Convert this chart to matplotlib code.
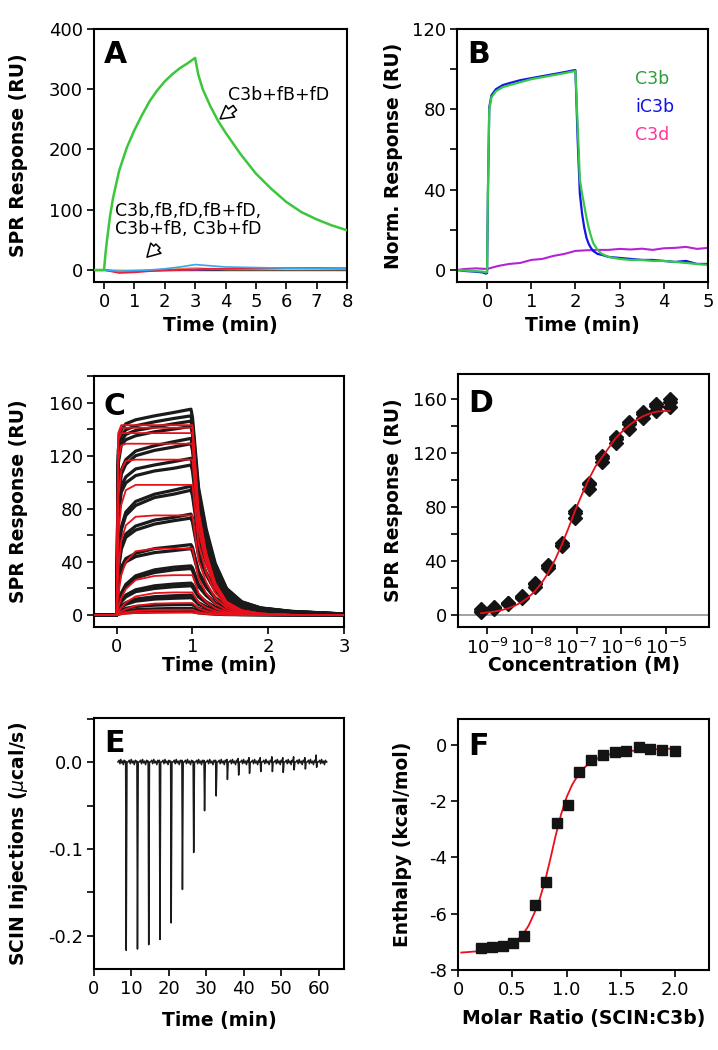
"""Six-panel SPR / ITC figure (panels A-F) redrawn with matplotlib."""

import matplotlib

matplotlib.use("Agg")
import matplotlib.pyplot as plt  # noqa: E402
from matplotlib.ticker import FixedLocator, MultipleLocator, NullLocator  # noqa: E402

plt.rcParams["font.family"] = ["DejaVu Sans"]
plt.rcParams["axes.unicode_minus"] = False

TICK_FONT_SIZE = 13
LABEL_FONT_SIZE = 13.5
LETTER_FONT_SIZE = 21.5
NOTE_FONT_SIZE = 12.5

# ---------------- panel A: SPR sensorgrams ----------------
A_TIME = [-0.33, 0, 0.05, 0.1, 0.2, 0.3, 0.5, 0.75, 1.0, 1.25, 1.5, 1.75, 2.0, 2.25,
          2.5, 2.75, 3.0, 3.1, 3.25, 3.5, 3.75, 4.0, 4.5, 5.0, 5.5, 6.0, 6.5, 7.0, 7.5, 8.0]
A_GREEN = [0, 0, 28, 50, 90, 120, 165, 203, 232, 257, 280, 298, 313, 325,
           335, 343, 352, 325, 300, 272, 248, 228, 192, 160, 135, 113, 96, 84, 74, 66]
A_LOW_TIME = [-0.33, 0, 0.5, 1, 1.5, 2, 2.5, 3, 3.5, 4, 5, 6, 7, 8]
A_CYAN = [0, 0, -2, -1, 0, 2, 5, 9, 7, 5, 4, 3, 2.5, 2]
A_YELLOW = [0, 0, -1, -2, -1, 0, 2, 4, 2, 1, 1, 1, 1, 1]
A_RED = [0, 0, -5, -4, -2, -1, 0, 1, 2, 2, 3, 3, 3, 3]
A_MAGENTA = [0, 0, -3, -3, -1, 0, 1, 1, 2, 2, 2, 3, 3, 2]
A_PURPLE = [0, 0, -2, -2, -1, 0, 0, 0, 1, 1, 1, 1, 1, 1]

# ---------------- panel B: normalised responses ----------------
B_TIME = [-0.68, -0.5, -0.3, -0.1, -0.02, 0.0, 0.02, 0.05, 0.1, 0.2, 0.35, 0.5, 0.75,
          1.0, 1.25, 1.5, 1.75, 1.98, 2.0, 2.05, 2.1, 2.15, 2.2, 2.25, 2.3, 2.35, 2.4,
          2.5, 2.6, 2.75, 3.0, 3.25, 3.5, 3.75, 4.0, 4.25, 4.5, 4.75, 5.0]
B_C3B = [0, -0.3, -0.6, -0.8, -1.2, -1.0, 40, 80, 86, 89, 91, 92, 93.5,
         95, 96, 97, 98, 99, 99, 72, 45, 38, 32, 26, 21, 17, 13.5,
         10, 8, 6.5, 5.5, 5, 5, 4.5, 4.5, 4, 3.5, 3, 2.5]
B_IC3B = [0, -0.5, -0.8, -1.2, -1.8, -1.5, 38, 81, 87, 90, 92, 93, 94.5,
          95.5, 96.5, 97.5, 98.5, 99.5, 99.5, 65, 38, 28, 21, 16, 13, 11, 9.5,
          8, 7.5, 6.5, 6, 5.5, 5, 5, 4.5, 4, 4.5, 3, 3]
B_TIME_C3D = [-0.68, -0.5, -0.25, 0.0, 0.25, 0.5, 0.75, 1.0, 1.25, 1.5, 1.75, 2.0,
              2.25, 2.5, 2.75, 3.0, 3.25, 3.5, 3.75, 4.0, 4.25, 4.5, 4.75, 5.0]
B_C3D = [0, 0.5, 0.8, 0.5, 2, 3, 3.5, 5, 5.5, 7, 8, 9.5,
         9.8, 10, 10, 10.5, 10.2, 10.6, 10, 10.8, 11, 11.5, 10.5, 11]
B_NAMES = ["C3b", "iC3b", "C3d"]

# ---------------- panel C: kinetic series with fits ----------------
C_TIME = [-0.3, 0.0, 0.02, 0.06, 0.12, 0.25, 0.5, 0.75, 0.98,
          1.0, 1.08, 1.18, 1.3, 1.45, 1.65, 1.9, 2.3, 3.0]
C_DATA = [
    [0, 0, 124, 139.5, 144, 147, 150, 152.5, 155, 149, 96, 65, 39, 20, 10, 5.4, 2.8, 0.8],
    [0, 0, 120, 135, 139.5, 142.5, 145.5, 148, 150, 144, 93, 63, 37.5, 19.5, 9.8, 5.2, 2.7, 0.8],
    [0, 0, 117, 131, 136, 139, 141.5, 144, 146, 140, 90.5, 61, 36.5, 19, 9.5, 5.1, 2.6, 0.7],
    [0, 0, 114, 128, 132, 135, 138, 140, 142, 136, 88, 60, 35.5, 18.5, 9.2, 5, 2.6, 0.7],
    [0, 0, 86.5, 109, 117, 123.5, 127.5, 130.5, 133, 128, 82.5, 56, 33, 17.3, 8.6, 4.7, 2.4, 0.7],
    [0, 0, 84, 106, 113.5, 120, 124, 126.5, 129, 124, 80, 54, 32, 16.8, 8.4, 4.5, 2.3, 0.6],
    [0, 0, 76.5, 97, 104, 110, 113, 115.5, 118, 113, 73, 49.5, 29.5, 15.3, 7.7, 4.1, 2.1, 0.6],
    [0, 0, 73.5, 92.5, 99.5, 105, 108.5, 110.5, 113, 108.5, 70, 47.5, 28, 14.7, 7.3, 4, 2, 0.6],
    [0, 0, 43.5, 66, 77.5, 85.5, 91, 94, 97, 93, 60, 40.7, 24, 12.6, 6.3, 3.4, 1.7, 0.5],
    [0, 0, 42.5, 64, 75, 82.5, 88.5, 91, 94, 90, 58, 39.5, 23.5, 12.2, 6.1, 3.3, 1.7, 0.5],
    [0, 0, 34, 51.5, 61, 67, 71.5, 73.5, 76, 73, 47, 32, 19, 9.9, 4.9, 2.7, 1.4, 0.4],
    [0, 0, 33, 49.5, 58.5, 64, 68.5, 71, 73, 70, 45, 30.5, 18, 9.5, 4.7, 2.6, 1.3, 0.4],
    [0, 0, 24, 36, 42.5, 46.5, 50, 51.5, 53, 51, 33, 22, 13, 6.9, 3.4, 1.9, 1.0, 0.3],
    [0, 0, 22.5, 34, 40, 44, 47, 48.5, 50, 48, 31, 21, 12.5, 6.5, 3.3, 1.8, 0.9, 0.3],
    [0, 0, 7.4, 16.5, 23, 29.5, 34, 36, 37, 35.5, 23, 15.5, 9.3, 4.8, 2.4, 1.3, 0.7, 0.2],
    [0, 0, 7, 15.5, 21.5, 28, 32, 34, 35, 33.5, 21.5, 14.7, 8.8, 4.6, 2.3, 1.2, 0.6, 0.2],
    [0, 0, 4.8, 10.8, 15, 19, 22, 23.3, 24, 23, 15, 10, 6, 3.1, 1.6, 0.8, 0.4, 0.1],
    [0, 0, 4.4, 10, 13.6, 17.6, 20, 21.3, 22, 21, 13.6, 9.2, 5.5, 2.9, 1.4, 0.8, 0.4, 0.1],
    [0, 0, 3, 6.8, 9.3, 12, 13.8, 14.5, 15, 14.4, 9.3, 6.3, 3.8, 2, 1, 0.5, 0.3, 0.1],
    [0, 0, 2.6, 5.9, 8, 10.4, 12, 12.6, 13, 12.5, 8, 5.5, 3.3, 1.7, 0.8, 0.5, 0.2, 0.1],
    [0, 0, 1.6, 3.6, 5, 6.4, 7.4, 7.8, 8, 7.7, 5, 3.4, 2, 1, 0.5, 0.3, 0.1, 0],
    [0, 0, 1, 2.3, 3.1, 4, 4.6, 4.9, 5, 4.8, 3.1, 2.1, 1.3, 0.7, 0.3, 0.2, 0.1, 0],
    [0, 0, 0.5, 1.1, 1.6, 2, 2.3, 2.4, 2.5, 2.4, 1.6, 1.1, 0.6, 0.3, 0.2, 0.1, 0, 0],
]
C_FITS = [
    [0, 0, 137, 143, 143, 143, 143, 143, 143, 143, 78.5, 47, 24, 10, 3.6, 1.1, 0.1, 0],
    [0, 0, 135, 141, 141, 141, 141, 141, 141, 141, 77.5, 46.5, 24, 9.9, 3.5, 1.1, 0.1, 0],
    [0, 0, 131.5, 137, 137, 137, 137, 137, 137, 137, 75, 45, 23.3, 9.6, 3.4, 1.1, 0.1, 0],
    [0, 0, 116, 127.7, 129, 129, 129, 129, 129, 129, 71, 42.5, 22, 9, 3.2, 1, 0.1, 0],
    [0, 0, 88, 109, 116, 117, 117, 117, 117, 117, 64, 38.6, 20, 8.2, 2.9, 0.9, 0.1, 0],
    [0, 0, 59, 83, 94, 98, 98, 98, 98, 98, 54, 32, 16.7, 6.9, 2.5, 0.8, 0.1, 0],
    [0, 0, 34, 56, 67.5, 74, 75, 75, 75, 75, 41, 24.8, 12.8, 5.3, 1.9, 0.6, 0.1, 0],
    [0, 0, 15, 30, 40, 48, 50, 50, 50, 50, 27.5, 16.5, 8.5, 3.5, 1.3, 0.4, 0, 0],
    [0, 0, 5.4, 12.9, 19.5, 26.4, 29.4, 30, 30, 30, 16.5, 9.9, 5.1, 2.1, 0.8, 0.2, 0, 0],
    [0, 0, 2.2, 5.6, 9.4, 14, 16.5, 17, 17, 17, 9.4, 5.6, 2.9, 1.2, 0.4, 0.1, 0, 0],
    [0, 0, 1, 2.7, 4.5, 7, 8.6, 8.9, 9, 9, 5, 3, 1.5, 0.6, 0.2, 0.1, 0, 0],
    [0, 0, 0.4, 1.2, 2, 3.1, 3.8, 4, 4, 4, 2.2, 1.3, 0.7, 0.3, 0.1, 0, 0, 0],
    [0, 0, 0.2, 0.6, 1, 1.6, 1.9, 2, 2, 2, 1.1, 0.7, 0.3, 0.1, 0, 0, 0, 0],
]

# ---------------- panel D: steady-state binding ----------------
D_CONC = [7.3e-10, 1.46e-9, 2.9e-9, 5.9e-9, 1.17e-8, 2.3e-8, 4.7e-8, 9.4e-8,
          1.875e-7, 3.75e-7, 7.5e-7, 1.5e-6, 3.0e-6, 6.0e-6, 1.2e-5]
D_REP1 = [2, 4.5, 8, 12.5, 20.5, 34.5, 51, 72, 93, 113, 127, 138, 146, 151, 154]
D_REP2 = [4, 6, 9, 14, 22.5, 36, 53, 75.5, 97, 116.5, 130.5, 141.5, 149, 154.5, 158]
D_REP3 = [3, 5, 8.5, 13, 23.5, 37, 52, 77, 98, 118, 132, 143, 150, 156, 160]
D_FIT_CONC = [7.3e-10, 1.0e-9, 1.46e-9, 2.0e-9, 2.9e-9, 4.2e-9, 5.9e-9, 8.3e-9, 1.17e-8,
              1.65e-8, 2.3e-8, 3.3e-8, 4.7e-8, 6.6e-8, 9.4e-8, 1.33e-7, 1.875e-7, 2.65e-7,
              3.75e-7, 5.3e-7, 7.5e-7, 1.06e-6, 1.5e-6, 2.1e-6, 3.0e-6, 4.2e-6, 6.0e-6,
              8.5e-6, 1.2e-5]
D_FIT = [1.2, 1.7, 2.4, 3.3, 4.7, 6.8, 9.4, 12.8, 17.5,
         23.5, 30.9, 40.8, 52.1, 64.3, 77.7, 89.5, 100.5, 110,
         117, 124, 131, 136, 140.5, 144, 147, 149, 150.5,
         151, 151]
D_TICKS = [1e-9, 1e-8, 1e-7, 1e-6, 1e-5]

# ---------------- panel E: ITC thermogram ----------------
E_START, E_END = 6.4, 62.1
E_INJ_TIME = [8.6, 11.6, 14.6, 17.6, 20.6, 23.6, 26.6, 29.5, 32.6, 35.6, 38.6, 41.5,
              44.5, 47.6, 50.5, 53.4, 56.4, 59.4]
E_INJ_DEPTH = [-0.2165, -0.215, -0.21, -0.204, -0.185, -0.1465, -0.104, -0.056, -0.039,
               -0.020, -0.015, -0.013, -0.011, -0.011, -0.012, -0.009, -0.008, -0.006]
E_INJ_UP = [0.001, 0.001, 0.001, 0.002, 0.001, 0.002, 0.001, 0.002, 0.002, 0.003,
            0.004, 0.005, 0.005, 0.006, 0.005, 0.006, 0.005, 0.008]
E_BASELINE_WIGGLE = [0.002, -0.002, 0.003, -0.001, 0.001, -0.003, 0.002, 0.0]

# ---------------- panel F: ITC binding isotherm ----------------
F_RATIO = [0.215, 0.317, 0.415, 0.508, 0.606, 0.708, 0.809, 0.908, 1.015, 1.117, 1.228,
           1.335, 1.446, 1.548, 1.662, 1.766, 1.88, 1.994]
F_ENTHALPY = [-7.23, -7.2, -7.14, -7.03, -6.79, -5.69, -4.86, -2.78, -2.13, -0.98, -0.53,
              -0.36, -0.26, -0.21, -0.08, -0.13, -0.18, -0.21]
F_FIT_X = [0.03, 0.1, 0.2, 0.3, 0.4, 0.5, 0.55, 0.6, 0.65, 0.7, 0.75, 0.8, 0.85, 0.9,
           0.95, 1.0, 1.05, 1.1, 1.15, 1.2, 1.3, 1.4, 1.5, 1.6, 1.7, 1.8, 1.9, 2.0]
F_FIT_Y = [-7.38, -7.36, -7.33, -7.28, -7.2, -7.05, -6.92, -6.72, -6.42, -6.0, -5.5,
           -4.85, -4.05, -3.2, -2.45, -1.85, -1.42, -1.1, -0.86, -0.67, -0.45, -0.33,
           -0.26, -0.21, -0.18, -0.16, -0.14, -0.13]


def style_axes(ax, letter, letter_y, ylabel, ylabel_x, xlabel, xlabel_y):
    """Common frame, tick and label styling for one panel."""
    for spine in ax.spines.values():
        spine.set_linewidth(1.5)
    ax.tick_params(which="both", direction="out", length=5, width=1.2,
                   labelsize=TICK_FONT_SIZE, pad=3)
    ax.text(0.04, letter_y, letter, transform=ax.transAxes, ha="left", va="top",
            fontsize=LETTER_FONT_SIZE, fontweight="bold")
    ax.set_ylabel(ylabel, fontsize=LABEL_FONT_SIZE, fontweight="bold")
    ax.yaxis.set_label_coords(ylabel_x, 0.5)
    ax.set_xlabel(xlabel, fontsize=LABEL_FONT_SIZE, fontweight="bold")
    ax.xaxis.set_label_coords(0.5, xlabel_y)


fig = plt.figure(figsize=(7.18, 10.5), dpi=100)

# ---- A ----
ax_a = fig.add_axes([0.1309, 0.7314, 0.3524, 0.2410])
ax_a.axhline(0, color="#333333", lw=1.0, zorder=1)
for values, colour in [(A_PURPLE, "#8a3fb0"), (A_YELLOW, "#f5c400"), (A_MAGENTA, "#d8239a"),
                       (A_RED, "#e8203a"), (A_CYAN, "#35a8f0")]:
    ax_a.plot(A_LOW_TIME, values, color=colour, lw=1.2, zorder=2)
ax_a.plot(A_TIME, A_GREEN, color="#3cc63c", lw=1.8, zorder=3)
ax_a.set_xlim(-0.33, 8)
ax_a.set_ylim(-20, 400)
ax_a.xaxis.set_major_locator(MultipleLocator(1))
ax_a.yaxis.set_major_locator(MultipleLocator(100))
arrow_style = dict(arrowstyle="simple,head_length=0.7,head_width=0.8,tail_width=0.32",
                   fc="white", ec="black", lw=1.1, mutation_scale=13)
ax_a.annotate("", xy=(3.75, 248), xytext=(4.38, 272), arrowprops=arrow_style)
ax_a.text(4.08, 290, "C3b+fB+fD", fontsize=NOTE_FONT_SIZE, ha="left", va="center")
ax_a.annotate("", xy=(1.35, 18), xytext=(1.84, 43), arrowprops=arrow_style)
ax_a.text(0.36, 83, "C3b,fB,fD,fB+fD,\nC3b+fB, C3b+fD", fontsize=NOTE_FONT_SIZE,
          ha="left", va="center", linespacing=1.0)
style_axes(ax_a, "A", 0.955, "SPR Response (RU)", -0.261, "Time (min)", -0.134)

# ---- B ----
ax_b = fig.add_axes([0.6365, 0.7314, 0.3496, 0.2410])
ax_b.plot(B_TIME_C3D, B_C3D, color="#b424d6", lw=1.5)
ax_b.plot(B_TIME, B_IC3B, color="#1414e6", lw=1.6)
ax_b.plot(B_TIME, B_C3B, color="#35c84a", lw=1.6)
ax_b.set_xlim(-0.68, 5)
ax_b.set_ylim(-6, 120)
ax_b.xaxis.set_major_locator(MultipleLocator(1))
ax_b.yaxis.set_major_locator(MultipleLocator(40))
ax_b.yaxis.set_minor_locator(MultipleLocator(20))
for name, colour, ypos in zip(B_NAMES, ["#2e9e3e", "#1212e8", "#ff3399"], [0.802, 0.692, 0.581]):
    ax_b.text(0.709, ypos, name, color=colour, fontsize=NOTE_FONT_SIZE,
              transform=ax_b.transAxes, ha="left", va="center")
style_axes(ax_b, "B", 0.955, "Norm. Response (RU)", -0.215, "Time (min)", -0.134)

# ---- C ----
ax_c = fig.add_axes([0.1309, 0.4029, 0.3482, 0.2390])
for values in C_DATA:
    ax_c.plot(C_TIME, values, color="#1a1a1a", lw=2.3, zorder=2)
for values in C_FITS:
    ax_c.plot(C_TIME, values, color="#e8101a", lw=1.3, zorder=3)
ax_c.set_xlim(-0.3, 3)
ax_c.set_ylim(-9, 180)
ax_c.xaxis.set_major_locator(MultipleLocator(1))
ax_c.yaxis.set_major_locator(MultipleLocator(40))
ax_c.yaxis.set_minor_locator(MultipleLocator(20))
style_axes(ax_c, "C", 0.935, "SPR Response (RU)", -0.264, "Time (min)", -0.116)

# ---- D ----
ax_d = fig.add_axes([0.6379, 0.4029, 0.3496, 0.2410])
ax_d.axhline(0, color="#9a9a9a", lw=1.3, zorder=1)
for reps in (D_REP1, D_REP2, D_REP3):
    ax_d.plot(D_CONC, reps, ls="none", marker="D", markersize=7, color="#141414", zorder=2)
ax_d.plot(D_FIT_CONC, D_FIT, color="#e8101a", lw=1.3, zorder=3)
ax_d.set_xscale("log")
ax_d.set_xlim(10 ** -9.65, 10 ** -4.04)
ax_d.set_ylim(-9, 178.5)
ax_d.xaxis.set_major_locator(FixedLocator(D_TICKS))
ax_d.xaxis.set_minor_locator(NullLocator())
ax_d.yaxis.set_major_locator(MultipleLocator(40))
ax_d.yaxis.set_minor_locator(MultipleLocator(20))
style_axes(ax_d, "D", 0.94, "SPR Response (RU)", -0.219, "Concentration (M)", -0.116)

# ---- E ----
ax_e = fig.add_axes([0.1309, 0.0771, 0.3482, 0.2390])
trace_t = [E_START]
trace_y = [0.0]
previous = E_START
n_wiggle = len(E_BASELINE_WIGGLE)
for t_inj, depth, up in zip(E_INJ_TIME, E_INJ_DEPTH, E_INJ_UP):
    span = (t_inj - 0.3) - (previous + 0.3)
    for k, wiggle in enumerate(E_BASELINE_WIGGLE):
        trace_t.append(previous + 0.3 + span * k / (n_wiggle - 1))
        trace_y.append(wiggle)
    trace_t += [t_inj - 0.15, t_inj, t_inj + 0.2, t_inj + 0.5]
    trace_y += [up, depth, 0.0, 0.0]
    previous = t_inj + 0.5
span = (E_END - 0.1) - (previous + 0.3)
for k, wiggle in enumerate(E_BASELINE_WIGGLE):
    trace_t.append(previous + 0.3 + span * k / (n_wiggle - 1))
    trace_y.append(wiggle)
trace_t.append(E_END)
trace_y.append(0.0)
ax_e.plot(trace_t, trace_y, color="#1a1a1a", lw=1.1)
ax_e.set_xlim(0, 66.7)
ax_e.set_ylim(-0.238, 0.0505)
ax_e.xaxis.set_major_locator(MultipleLocator(10))
ax_e.yaxis.set_major_locator(MultipleLocator(0.1))
ax_e.yaxis.set_minor_locator(MultipleLocator(0.05))
ax_e.yaxis.set_major_formatter(plt.FormatStrFormatter("%.1f"))
style_axes(ax_e, "E", 0.955, r"SCIN Injections ($\mu$cal/s)", -0.256, "Time (min)", -0.168)

# ---- F ----
ax_f = fig.add_axes([0.6379, 0.0762, 0.3496, 0.2390])
ax_f.plot(F_FIT_X, F_FIT_Y, color="#e8101a", lw=1.3, zorder=2)
ax_f.plot(F_RATIO, F_ENTHALPY, ls="none", marker="s", markersize=7, color="#141414", zorder=3)
ax_f.set_xlim(0, 2.31)
ax_f.set_ylim(-8, 0.92)
ax_f.set_xticks([0, 0.5, 1.0, 1.5, 2.0])
ax_f.set_xticklabels(["0", "0.5", "1.0", "1.5", "2.0"])
ax_f.yaxis.set_major_locator(MultipleLocator(2))
style_axes(ax_f, "F", 0.95, "Enthalpy (kcal/mol)", -0.183, "Molar Ratio (SCIN:C3b)", -0.155)

fig.savefig("out.png", dpi=100)
plt.close(fig)
